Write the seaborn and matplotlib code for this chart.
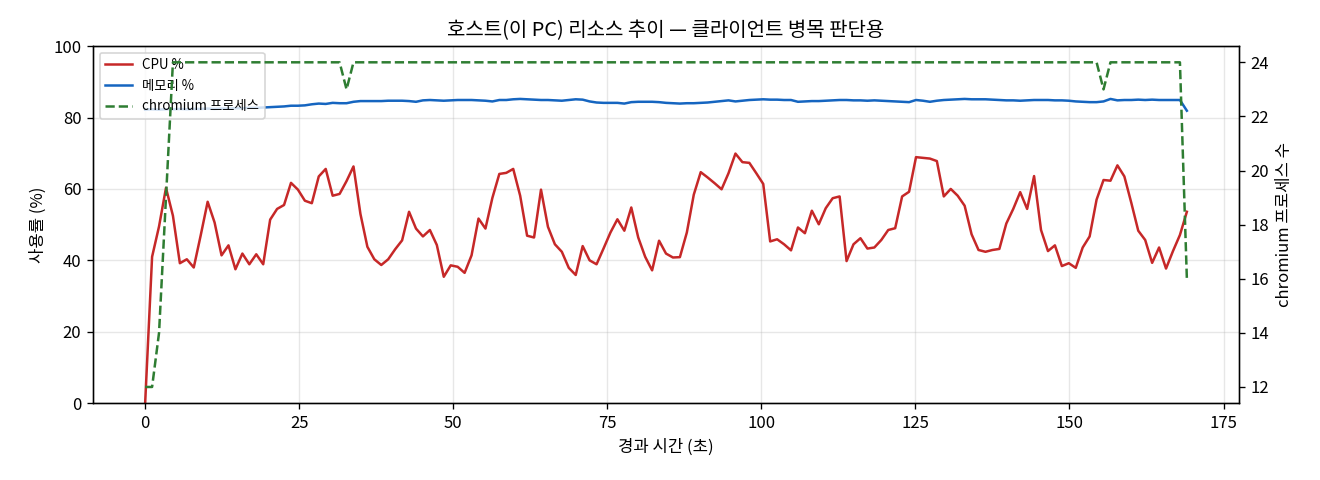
import numpy as np
import matplotlib
matplotlib.use('Agg')
import matplotlib.pyplot as plt
import seaborn as sns

plt.rcParams['font.family'] = ['Noto Sans CJK KR', 'DejaVu Sans']
plt.rcParams['axes.unicode_minus'] = False

# sampling interval of the monitor (seconds)
INTERVAL_S = 1.127

cpu = [0, 41.0, 49.5, 60.3, 52.5, 39.2, 40.3, 38.0, 47.0, 56.4,
       50.6, 41.4, 44.2, 37.5, 41.9, 38.9, 41.7, 38.9, 51.4, 54.4,
       55.5, 61.7, 59.8, 56.7, 56.0, 63.5, 65.6, 58.1, 58.6, 62.2,
       66.3, 53.0, 43.8, 40.3, 38.7, 40.3, 43.1, 45.6, 53.6, 48.9,
       46.7, 48.5, 44.3, 35.4, 38.6, 38.2, 36.5, 41.4, 51.7, 48.9,
       57.5, 64.2, 64.5, 65.6, 58.1, 46.9, 46.4, 59.8, 49.4, 44.5,
       42.4, 37.9, 35.9, 44.0, 40.0, 38.9, 43.3, 47.8, 51.5, 48.3,
       54.8, 46.4, 41.0, 37.2, 45.5, 41.9, 40.8, 40.9, 47.8, 58.4,
       64.7, 63.2, 61.6, 59.9, 64.4, 69.9, 67.5, 67.3, 64.4, 61.4,
       45.3, 45.9, 44.5, 42.8, 49.2, 47.6, 53.9, 50.1, 54.6, 57.4,
       57.9, 39.8, 44.5, 46.2, 43.3, 43.6, 45.7, 48.5, 49.0, 57.9,
       59.2, 68.9, 68.7, 68.5, 67.8, 57.9, 60.0, 58.1, 55.3, 47.3,
       42.9, 42.4, 42.9, 43.2, 50.3, 54.4, 59.1, 54.4, 63.6, 48.5,
       42.6, 44.2, 38.4, 39.2, 37.9, 43.6, 46.7, 57.0, 62.5, 62.3,
       66.6, 63.5, 56.1, 48.3, 45.7, 39.3, 43.6, 37.7, 42.6, 47.1,
       53.6]

mem = [82.2, 82.3, 82.2, 82.3, 82.3, 82.4, 82.3, 82.4, 82.4, 82.5,
       82.4, 82.5, 82.5, 82.6, 82.6, 82.7, 82.7, 82.8, 82.9, 83.0,
       83.1, 83.3, 83.3, 83.4, 83.7, 83.9, 83.8, 84.1, 84.0, 84.0,
       84.4, 84.6, 84.6, 84.6, 84.6, 84.7, 84.7, 84.7, 84.6, 84.4,
       84.8, 84.9, 84.8, 84.7, 84.8, 84.9, 84.9, 84.9, 84.8, 84.7,
       84.5, 84.9, 84.9, 85.1, 85.2, 85.1, 85.0, 84.9, 84.9, 84.8,
       84.7, 84.9, 85.1, 85.0, 84.5, 84.2, 84.1, 84.1, 84.1, 83.9,
       84.3, 84.4, 84.4, 84.4, 84.3, 84.1, 84.0, 83.9, 84.0, 84.0,
       84.1, 84.2, 84.4, 84.6, 84.8, 84.5, 84.7, 84.9, 85.0, 85.1,
       85.0, 85.0, 84.9, 84.9, 84.4, 84.5, 84.6, 84.6, 84.7, 84.8,
       84.9, 84.9, 84.8, 84.8, 84.7, 84.8, 84.7, 84.6, 84.5, 84.4,
       84.3, 84.9, 84.7, 84.4, 84.7, 84.9, 85.0, 85.1, 85.2, 85.1,
       85.1, 85.1, 85.0, 84.9, 84.8, 84.8, 84.7, 84.8, 84.9, 84.9,
       84.9, 84.8, 84.8, 84.7, 84.5, 84.4, 84.3, 84.3, 84.5, 85.2,
       84.8, 84.9, 84.9, 85.0, 84.9, 85.0, 84.9, 84.9, 84.9, 84.9,
       81.9]

chromium = [12, 12, 14, 19] + [24] * 25 + [23] + [24] * 108 + [23] + [24] * 11 + [16]

elapsed = np.arange(len(cpu)) * INTERVAL_S

fig, ax = plt.subplots(figsize=(11, 4), dpi=120)
ax2 = ax.twinx()

sns.lineplot(x=elapsed, y=cpu, ax=ax, color='#c62828', linewidth=1.5, label='CPU %')
sns.lineplot(x=elapsed, y=mem, ax=ax, color='#1565c0', linewidth=1.5, label='메모리 %')
sns.lineplot(x=elapsed, y=chromium, ax=ax2, color='#2e7d32', linewidth=1.5,
             linestyle='--', label='chromium 프로세스')

ax.set_ylim(0, 100)
ax.set_xlabel('경과 시간 (초)')
ax.set_ylabel('사용률 (%)')
ax2.set_ylabel('chromium 프로세스 수')
ax.set_title('호스트(이 PC) 리소스 추이 — 클라이언트 병목 판단용')
ax.grid(True, alpha=0.3)

for a in (ax, ax2):
    if a.get_legend() is not None:
        a.get_legend().remove()
h1, l1 = ax.get_legend_handles_labels()
h2, l2 = ax2.get_legend_handles_labels()
ax.legend(h1 + h2, l1 + l2, loc='upper left', fontsize=8)

fig.subplots_adjust(left=0.0705, right=0.9386, top=0.904, bottom=0.16)
fig.savefig('out.png', dpi=120)
